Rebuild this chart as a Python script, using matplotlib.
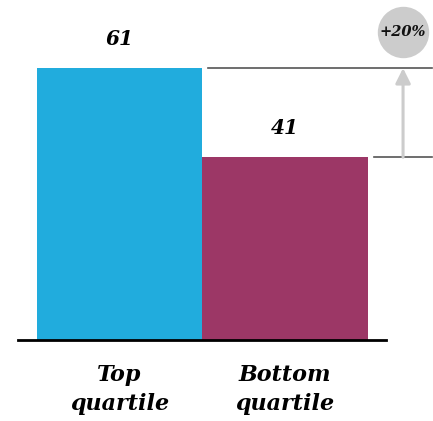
import matplotlib.pyplot as plt

categories = ["Top\nquartile", "Bottom\nquartile"]
values = [61, 41]
colors = ["#21acdd", "#9c3766"]
diff_label = "+20%"

plt.rcParams['font.family'] = ['DejaVu Serif']

fig = plt.figure(figsize=(4.33, 4.21), dpi=100)
ax = fig.add_axes([18 / 433, 81 / 421, 368 / 433, 320 / 421])

x = list(range(len(values)))
ax.bar(x, values, width=1.0, color=colors)
ax.set_xlim(-0.613, 1.61)
ax.set_ylim(0, 71.8)

for xi, v in zip(x, values):
    ax.text(xi, v + 6.5, str(v), ha='center', va='center', fontsize=14.5,
            fontweight='bold', fontstyle='italic')

ax.set_xticks(x)
ax.set_xticklabels(categories, fontsize=16, fontweight='bold', fontstyle='italic',
                   linespacing=1.45)
ax.tick_params(axis='x', length=0, pad=17)
ax.set_yticks([])
for s in ['top', 'right', 'left']:
    ax.spines[s].set_visible(False)
ax.spines['bottom'].set_linewidth(2)
ax.spines['bottom'].set_color('black')

# reference lines for the gap
ax.plot([0.536, 1.888], [values[0], values[0]], color='#555555', lw=1.2, clip_on=False)
ax.plot([1.538, 1.888], [values[1], values[1]], color='#555555', lw=1.2, clip_on=False)
ax.annotate('', xy=(1.713, values[0]), xytext=(1.713, values[1]),
            arrowprops=dict(arrowstyle='-|>,head_width=0.45,head_length=0.9',
                            color='#cccccc', lw=2.2, shrinkA=0, shrinkB=0),
            annotation_clip=False)
ax.plot([1.713], [69.0], marker='o', markersize=37, color='#cccccc',
        markeredgewidth=0, clip_on=False)
ax.text(1.713, 69.0, diff_label, ha='center', va='center', fontsize=10.5,
        fontweight='bold', fontstyle='italic', color='#111111')

fig.savefig('out.png', dpi=100)
